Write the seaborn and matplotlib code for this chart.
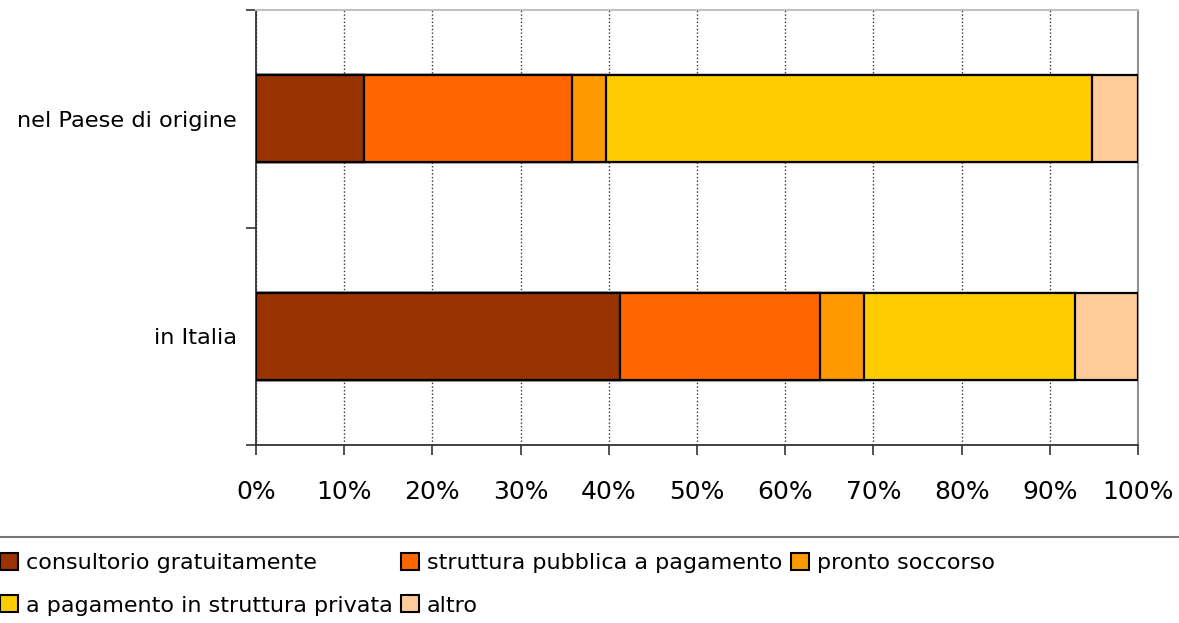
import matplotlib
matplotlib.use("Agg")
import matplotlib.pyplot as plt
from matplotlib.patches import Patch
from matplotlib.lines import Line2D
from matplotlib.ticker import FixedLocator, PercentFormatter
import seaborn as sns
import numpy as np

# Categories (top to bottom) and the share of each source of care, in percent
categories = ["nel Paese di origine", "in Italia"]
series_names = [
    "consultorio gratuitamente",
    "struttura pubblica a pagamento",
    "pronto soccorso",
    "a pagamento in struttura privata",
    "altro",
]
consultorio = [12.2, 41.3]
pubblica = [23.6, 22.6]
pronto = [3.9, 5.0]
privata = [55.1, 24.0]
altro = [5.2, 7.1]
x_ticks = [0, 10, 20, 30, 40, 50, 60, 70, 80, 90, 100]

colors = ["#993300", "#FF6600", "#FF9900", "#FFCC00", "#FFCC99"]

sns.set_style("white")
plt.rcParams["font.family"] = ["DejaVu Sans"]
plt.rcParams["text.color"] = "black"
plt.rcParams["xtick.color"] = "black"
plt.rcParams["ytick.color"] = "black"

fig = plt.figure(figsize=(11.79, 6.23), dpi=100)
ax = fig.add_axes([256 / 1179, 1 - 445 / 623, (1138 - 256) / 1179, 435 / 623])

# Stacked bars: draw cumulative totals from the outermost segment inwards
values = [consultorio, pubblica, pronto, privata, altro]
cum = np.cumsum(np.array(values), axis=0)
for i in range(len(values) - 1, -1, -1):
    sns.barplot(
        x=cum[i], y=categories, orient="h", color=colors[i], saturation=1,
        edgecolor="black", linewidth=1.6, width=0.4, ax=ax, zorder=3,
    )

ax.set_xlim(0, 100)
ax.set_ylim(1.5, -0.5)
ax.set_xlabel("")
ax.set_ylabel("")

# x axis
ax.xaxis.set_major_locator(FixedLocator(x_ticks))
ax.xaxis.set_major_formatter(PercentFormatter(decimals=0))
ax.tick_params(axis="x", which="major", bottom=True, length=7, width=1.2,
               color="#333333", labelcolor="black", direction="out", pad=18,
               labelsize=18)
ax.set_axisbelow(True)
ax.xaxis.grid(True, linestyle=(0, (1, 1.6)), color="#333333", linewidth=1.0)
ax.yaxis.grid(False)

# y axis: labels at band centres, tick marks at band boundaries
ax.tick_params(axis="y", which="major", left=True, length=0, pad=14,
               labelsize=16.2, labelcolor="black")
ax.yaxis.set_minor_locator(FixedLocator([-0.5, 0.5, 1.5]))
ax.tick_params(axis="y", which="minor", left=True, length=7.5, width=1.2,
               color="#333333", direction="out")

for side in ["left", "bottom"]:
    ax.spines[side].set_color("#333333")
    ax.spines[side].set_linewidth(1.3)
ax.spines["top"].set_color("#c0c0c0")
ax.spines["top"].set_linewidth(1.5)
ax.spines["right"].set_color("#909090")
ax.spines["right"].set_linewidth(1.5)

# Separator above the legend
fig.add_artist(Line2D([0, 1], [1 - 537 / 623, 1 - 537 / 623],
                      transform=fig.transFigure, color="#777777", linewidth=1.5))

# Legend laid out row by row (matplotlib fills columns first)
handles = [Patch(facecolor=c, edgecolor="black", linewidth=1.5) for c in colors]
order = [0, 3, 1, 4, 2]
fig.legend(
    [handles[i] for i in order], [series_names[i] for i in order],
    ncol=3, loc="upper left", bbox_to_anchor=(0.0, 1 - 553 / 623),
    frameon=False, fontsize=16, handlelength=0.8, handleheight=0.8,
    handletextpad=0.35, columnspacing=0.4, labelspacing=1.0,
    borderaxespad=0, borderpad=0, labelcolor="black",
)

fig.savefig("out.png", dpi=100)
